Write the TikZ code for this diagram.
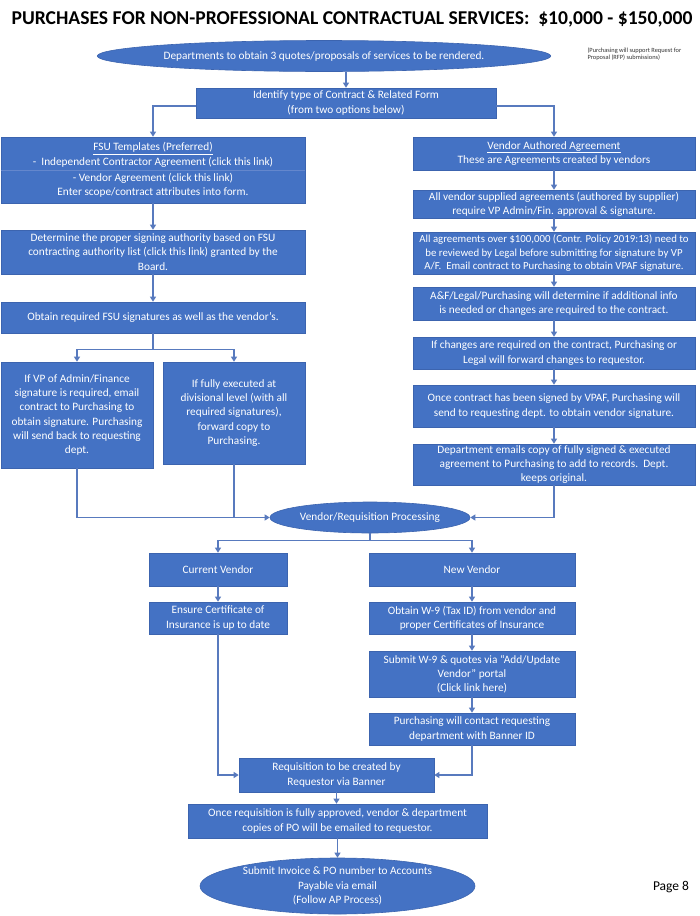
\documentclass[tikz,border=0pt]{standalone}
\usepackage{fontspec}
\setmainfont{Carlito}
\usetikzlibrary{arrows.meta,shapes.geometric}
\definecolor{boxblue}{RGB}{68,114,196}
\definecolor{boxedge}{RGB}{60,100,175}
\definecolor{lineblue}{RGB}{88,122,190}
\definecolor{divblue}{RGB}{100,135,205}
\tikzset{
  box/.style={draw=boxedge, line width=0.6pt, fill=boxblue, text=white, align=center, inner sep=0pt,
    font=\fontsize{11.3}{14.3}\selectfont},
  oval/.style={ellipse, draw=boxedge, line width=0.6pt, fill=boxblue, text=white, align=center, inner sep=0pt,
    font=\fontsize{11.3}{14.3}\selectfont},
  sz/.style 2 args={minimum width=#1pt, minimum height=#2pt},
  conn/.style={draw=lineblue, line width=1.1pt},
  arr/.style={conn, -{Triangle[width=6pt,length=5pt]}},
}
\begin{document}
\begin{tikzpicture}[x=1pt,y=-1pt]
\path[use as bounding box, fill=white] (0,0) rectangle (700,916);

\node[font=\fontsize{19.6}{22}\selectfont\bfseries, text=black] (title) at (352,19)
  {PURCHASES FOR NON-PROFESSIONAL CONTRACTUAL SERVICES:\ \ \$10,000 - \$150,000};
\node[font=\fontsize{6.4}{7.5}\selectfont, align=left, anchor=west, text=black!80] (note) at (584,54)
  {(Purchasing will support Request for\\Proposal (RFP) submissions)};

\node[oval, sz={420}{31}] (e1) at (324,56) {Departments to obtain 3 quotes/proposals of services to be rendered.};
\node[box, sz={300}{30}] (ident) at (346,103) {Identify type of Contract \& Related Form\\(from two options below)};

% left column
\node[box, sz={304}{66}] (l1) at (153,170) {\underline{FSU Templates (Preferred)}\\-\ \ Independent Contractor Agreement (click this link)\\[2pt]- Vendor Agreement (click this link)\\Enter scope/contract attributes into form.};
\draw[divblue, line width=0.6pt] (l1.west |- 0,170) -- (l1.east |- 0,170);
\node[box, sz={304}{44}] (l2) at (153,252) {Determine the proper signing authority based on FSU\\contracting authority list (click this link) granted by the\\Board.};
\node[box, sz={304}{31}] (l3) at (153,317.5) {Obtain required FSU signatures as well as the vendor’s.};
\node[box, sz={152}{106}] (l4) at (77,415) {If VP of Admin/Finance\\signature is required, email\\contract to Purchasing to\\obtain signature. Purchasing\\will send back to requesting\\dept.};
\node[box, sz={142}{102}] (l5) at (234,413) {If fully executed at\\divisional level (with all\\required signatures),\\forward copy to\\Purchasing.};

% right column
\node[box, sz={282}{33}] (r1) at (554,153.5) {\underline{Vendor Authored Agreement}\\These are Agreements created by vendors};
\node[box, sz={282}{28}] (r2) at (554,204) {All vendor supplied agreements (authored by supplier)\\require VP Admin/Fin. approval \& signature.};
\node[box, sz={282}{42}, font=\fontsize{10.8}{13.6}\selectfont] (r3) at (554,253) {All agreements over \$100,000 (Contr. Policy 2019:13) need to\\be reviewed by Legal before submitting for signature by VP\\A/F.\ \ Email contract to Purchasing to obtain VPAF signature.};
\node[box, sz={282}{33}] (r4) at (554,303.5) {A\&F/Legal/Purchasing will determine if additional info\\is needed or changes are required to the contract.};
\node[box, sz={282}{32}] (r5) at (554,353) {If changes are required on the contract, Purchasing or\\Legal will forward changes to requestor.};
\node[box, sz={282}{42}] (r6) at (554,406) {Once contract has been signed by VPAF, Purchasing will\\send to requesting dept. to obtain vendor signature.};
\node[box, sz={282}{41}] (r7) at (554,464.5) {Department emails copy of fully signed \& executed\\agreement to Purchasing to add to records.\ \ Dept.\\keeps original.};

\node[oval, sz={200}{31}] (e2) at (370,517.5) {Vendor/Requisition Processing};

% vendor section
\node[box, sz={138}{33}] (cv) at (218,569.5) {Current Vendor};
\node[box, sz={206}{33}] (nv) at (472,569.5) {New Vendor};
\node[box, sz={138}{32}] (ens) at (218,618) {Ensure Certificate of\\Insurance is up to date};
\node[box, sz={206}{32}] (w9) at (472,618) {Obtain W-9 (Tax ID) from vendor and\\proper Certificates of Insurance};
\node[box, sz={206}{46}] (sub) at (472,674) {Submit W-9 \& quotes via “Add/Update\\Vendor” portal\\(Click link here)};
\node[box, sz={206}{32}] (pur) at (472,729) {Purchasing will contact requesting\\department with Banner ID};
\node[box, sz={195}{34}] (req) at (336.5,775) {Requisition to be created by\\Requestor via Banner};
\node[box, sz={299}{34}] (once) at (337.5,821) {Once requisition is fully approved, vendor \& department\\copies of PO will be emailed to requestor.};
\node[oval, sz={275}{56}] (ef) at (337.5,886) {Submit Invoice \& PO number to Accounts\\Payable via email\\(Follow AP Process)};

\node[font=\fontsize{13.5}{15}\selectfont, text=black] (page) at (671,887) {Page 8};

% connectors
\draw[arr] (ident.north |- e1.south) -- (ident.north);
\draw[arr] ([yshift=-3pt]ident.west) -| (l1.north);
\draw[arr] ([yshift=-3pt]ident.east) -| (r1.north);
\draw[arr] (l1.south) -- (l2.north);
\draw[arr] (l2.south) -- (l3.north);
\draw[conn] (l3.south) -- ++(0,16) coordinate (s1);
\draw[arr] (s1) -| (l4.north);
\draw[arr] (s1) -| (l5.north);
\draw[arr] (l4.south) |- (e2.west);
\draw[conn] (l5.south) -- (l5.south |- e2.west);
\draw[arr] (r1.south) -- (r2.north);
\draw[arr] (r2.south) -- (r3.north);
\draw[arr] (r3.south) -- (r4.north);
\draw[arr] (r4.south) -- (r5.north);
\draw[arr] (r5.south) -- (r6.north);
\draw[arr] (r6.south) -- (r7.north);
\draw[arr] (r7.south) |- (e2.east);
\draw[conn] (e2.south) -- ++(0,7) coordinate (s2);
\draw[arr] (s2) -| (cv.north);
\draw[arr] (s2) -| (nv.north);
\draw[arr] (cv.south) -- (ens.north);
\draw[arr] (nv.south) -- (w9.north);
\draw[arr] (w9.south) -- (sub.north);
\draw[arr] (sub.south) -- (pur.north);
\draw[arr] (ens.south) |- (req.west);
\draw[arr] (pur.south) |- (req.east);
\draw[arr] (req.south) -- (req.south |- once.north);
\draw[arr] (once.south) -- (once.south |- ef.north);
\end{tikzpicture}
\end{document}
